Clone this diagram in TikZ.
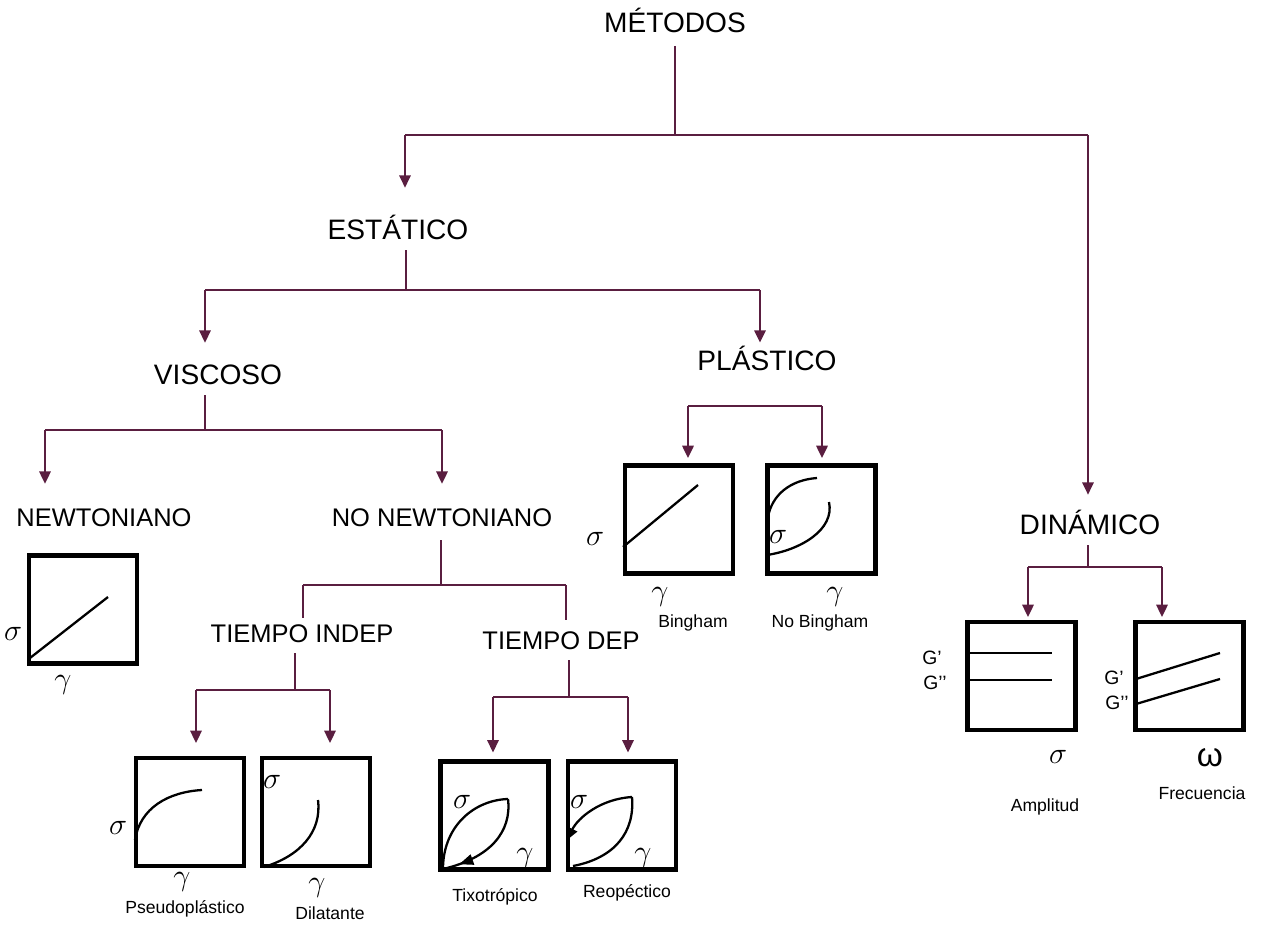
\documentclass[tikz,border=0pt]{standalone}
\usepackage{fontspec}
\setmainfont{Liberation Sans}
\usetikzlibrary{arrows.meta,decorations.markings}
\definecolor{vino}{HTML}{5A1E40}

\begin{document}
\begin{tikzpicture}[x=0.02cm,y=-0.02cm,>={Triangle[width=6.5pt,length=7pt]},
    nivel/.style={font=\fontsize{16}{19}\selectfont,inner sep=0pt,
        text height=11.4pt,text depth=0pt},
    subnivel/.style={font=\fontsize{14.5}{17}\selectfont,inner sep=0pt,
        text height=10.4pt,text depth=0pt},
    rama/.style={draw=vino,line width=1.1pt},
    flecha/.style={rama,->},
    caja/.style={draw,line width=2.3pt,minimum width=2.16cm,
        minimum height=2.16cm,inner sep=0pt},
    curva/.style={line width=1.3pt},
    eje/.style={font=\fontsize{17.5}{20}\selectfont,inner sep=0pt},
    pie/.style={font=\fontsize{10}{12}\selectfont,inner sep=0pt}]
    \useasboundingbox (0,0) rectangle (1262,926);

    % Niveles del árbol.
    \node[nivel] (metodos) at (675,22.5) {MÉTODOS};
    \node[nivel] (estatico) at (398,229.5) {ESTÁTICO};
    \node[nivel] (viscoso) at (218,374) {VISCOSO};
    \node[nivel] (plastico) at (767,360.5) {PLÁSTICO};
    \node[nivel] (dinamico) at (1090,524) {DINÁMICO};
    \node[subnivel] (newt) at (104,517.5) {NEWTONIANO};
    \node[subnivel] (nonewt) at (442,517.5) {NO NEWTONIANO};
    \node[subnivel] (tind) at (302,633.5) {TIEMPO INDEP};
    \node[subnivel] (tdep) at (561,640) {TIEMPO DEP};

    % Cajas de las curvas.
    \node[caja] (bnewt) at (83,609.5) {};
    \node[caja] (bpseudo) at (190,812) {};
    \node[caja] (bdil) at (316,812) {};
    \node[caja] (btixo) at (494.5,815.5) {};
    \node[caja] (breo) at (622,815.5) {};
    \node[caja] (bbing) at (679,519.5) {};
    \node[caja] (bnobing) at (821.5,519.5) {};
    \node[caja] (bamp) at (1021.5,676) {};
    \node[caja] (bfrec) at (1189.5,676) {};

    % MÉTODOS -> ESTÁTICO, DINÁMICO.
    \coordinate (m-c) at (675,135);
    \coordinate (m-i) at (405,135);
    \coordinate (m-d) at (1088,135);
    \draw[rama,shorten <=7.4pt] (metodos.south) -- (m-c);
    \draw[rama] (m-i) -- (m-d);
    \draw[flecha,shorten >=17.9pt] (m-i) -- (m-i |- estatico.north);
    \draw[flecha,shorten >=10.8pt] (m-d) -- (m-d |- dinamico.north);

    % ESTÁTICO -> VISCOSO, PLÁSTICO.
    \coordinate (e-c) at (406,290);
    \coordinate (e-i) at (205,290);
    \coordinate (e-d) at (760,290);
    \draw[rama,shorten <=6pt] (e-c |- estatico.south) -- (e-c);
    \draw[rama] (e-i) -- (e-d);
    \draw[flecha,shorten >=11.9pt] (e-i) -- (e-i |- viscoso.north);
    \draw[flecha,shorten >=4.3pt] (e-d) -- (e-d |- plastico.north);

    % VISCOSO -> NEWTONIANO, NO NEWTONIANO.
    \coordinate (v-c) at (205,430);
    \coordinate (v-i) at (45,430);
    \coordinate (v-d) at (442,430);
    \draw[rama,shorten <=6.2pt] (v-c |- viscoso.south) -- (v-c);
    \draw[rama] (v-i) -- (v-d);
    \draw[flecha,shorten >=13.8pt] (v-i) -- (v-i |- newt.north);
    \draw[flecha,shorten >=13.8pt] (v-d) -- (v-d |- nonewt.north);

    % NO NEWTONIANO -> TIEMPO INDEP, TIEMPO DEP.
    \coordinate (n-c) at (441,585);
    \coordinate (n-i) at (303,585);
    \coordinate (n-d) at (566,585);
    \draw[rama,shorten <=7.5pt] (n-c |- nonewt.south) -- (n-c);
    \draw[rama] (n-i) -- (n-d);
    \draw[rama,shorten >=3.6pt] (n-i) -- (n-i |- tind.north);
    \draw[rama,shorten >=6.2pt] (n-d) -- (n-d |- tdep.north);

    % TIEMPO INDEP -> cajas.
    \coordinate (ti-c) at (295,690);
    \coordinate (ti-i) at (196,690);
    \coordinate (ti-d) at (330,690);
    \draw[rama,shorten <=5.9pt] (ti-c |- tind.south) -- (ti-c);
    \draw[rama] (ti-i) -- (ti-d);
    \draw[flecha,shorten >=7.4pt] (ti-i) -- (ti-i |- bpseudo.north);
    \draw[flecha,shorten >=7.4pt] (ti-d) -- (ti-d |- bdil.north);

    % TIEMPO DEP -> cajas.
    \coordinate (td-c) at (569,697);
    \coordinate (td-i) at (493,697);
    \coordinate (td-d) at (628,697);
    \draw[rama,shorten <=6.2pt] (td-c |- tdep.south) -- (td-c);
    \draw[rama] (td-i) -- (td-d);
    \draw[flecha,shorten >=4pt] (td-i) -- (td-i |- btixo.north);
    \draw[flecha,shorten >=4pt] (td-d) -- (td-d |- breo.north);

    % PLÁSTICO -> cajas.
    \coordinate (p-i) at (688,406);
    \coordinate (p-d) at (822,406);
    \draw[rama] (p-i) -- (p-d);
    \draw[flecha,shorten >=3.1pt] (p-i) -- (p-i |- bbing.north);
    \draw[flecha,shorten >=3.1pt] (p-d) -- (p-d |- bnobing.north);

    % DINÁMICO -> cajas.
    \coordinate (d-c) at (1088,567);
    \coordinate (d-i) at (1028,567);
    \coordinate (d-d) at (1162,567);
    \draw[rama,shorten <=6.2pt] (d-c |- dinamico.south) -- (d-c);
    \draw[rama] (d-i) -- (d-d);
    \draw[flecha,shorten >=1.7pt] (d-i) -- (d-i |- bamp.north);
    \draw[flecha,shorten >=1.7pt] (d-d) -- (d-d |- bfrec.north);

    % Newtoniano.
    \draw[curva] (30,658) -- (108,597);
    \node[eje] (s-newt) at (13,634) {$\sigma$};
    \node[eje] (g-newt) at (63,685) {$\gamma$};

    % Pseudoplástico y dilatante.
    \draw[curva] (135,840) .. controls (140,808) and (168,792) .. (202,790);
    \node[eje] (s-pseudo) at (118,828) {$\sigma$};
    \node[eje] (g-pseudo) at (182,882) {$\gamma$};
    \node[pie] (l-pseudo) at (185,909) {Pseudoplástico};
    \draw[curva] (264,867) .. controls (300,856) and (322,832) .. (318,800);
    \node[eje] (s-dil) at (272,782) {$\sigma$};
    \node[eje] (g-dil) at (317,888) {$\gamma$};
    \node[pie] (l-dil) at (330,913) {Dilatante};

    % Tixotrópico y reopéctico.
    \draw[curva] (443,867) .. controls (444,825) and (475,800) .. (508,799);
    \draw[curva,decoration={markings,mark=at position 0.84 with {\arrow{Triangle[width=6pt,length=8pt]}}},
        postaction={decorate}]
        (508,799) .. controls (512,832) and (490,858) .. (443,869);
    \node[eje] (s-tixo) at (462,802) {$\sigma$};
    \node[eje] (g-tixo) at (525,858) {$\gamma$};
    \node[pie] (l-tixo) at (495,897) {Tixotrópico};
    \draw[curva,-{Triangle[width=6pt,length=7pt]}]
        (632,797) .. controls (600,799) and (578,818) .. (567,840);
    \draw[curva] (632,797) .. controls (635,832) and (615,858) .. (573,866);
    \node[eje] (s-reo) at (579,802) {$\sigma$};
    \node[eje] (g-reo) at (643,858) {$\gamma$};
    \node[pie] (l-reo) at (627,893) {Reopéctico};

    % Bingham y no Bingham.
    \draw[curva] (623,547) -- (698,485);
    \node[eje] (s-bing) at (595,539) {$\sigma$};
    \node[eje] (g-bing) at (660,597) {$\gamma$};
    \node[pie] (l-bing) at (693,623) {Bingham};
    \draw[curva] (768,517) .. controls (772,495) and (790,480) .. (817,478);
    \draw[curva] (767,555) .. controls (800,550) and (835,530) .. (829,502);
    \node[eje] (s-nobing) at (778,537) {$\sigma$};
    \node[eje] (g-nobing) at (835,597) {$\gamma$};
    \node[pie] (l-nobing) at (820,623) {No Bingham};

    % Amplitud y frecuencia.
    \draw[curva] (968,653) -- (1052,653);
    \draw[curva] (968,680) -- (1052,680);
    \node[pie,font=\fontsize{11}{12}\selectfont] (gp-amp) at (932,658) {G’};
    \node[pie,font=\fontsize{11}{12}\selectfont] (gpp-amp) at (935,683) {G’’};
    \node[eje] (s-amp) at (1058,757) {$\sigma$};
    \node[pie] (l-amp) at (1045,807) {Amplitud};
    \draw[curva] (1136,679) -- (1220,653);
    \draw[curva] (1136,704) -- (1220,679);
    \node[pie,font=\fontsize{11}{12}\selectfont] (gp-frec) at (1114,678) {G’};
    \node[pie,font=\fontsize{11}{12}\selectfont] (gpp-frec) at (1117,703) {G’’};
    \node[eje,font=\fontsize{19}{22}\selectfont] (w-frec) at (1210,758) {ω};
    \node[pie] (l-frec) at (1202,793) {Frecuencia};
\end{tikzpicture}
\end{document}
